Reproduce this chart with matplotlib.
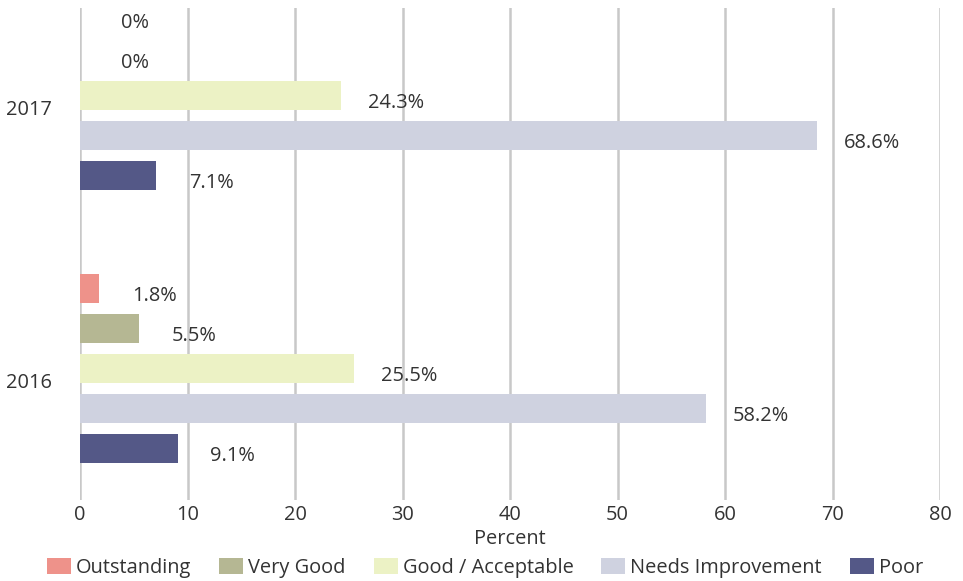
import matplotlib
matplotlib.use("Agg")
import matplotlib.pyplot as plt
import matplotlib.transforms as mtransforms
from matplotlib.patches import Patch

plt.rcParams['font.family'] = ['Open Sans', 'DejaVu Sans']

years = ["2016", "2017"]
series = ["Outstanding", "Very Good", "Good / Acceptable", "Needs Improvement", "Poor"]
values_2016 = [1.8, 5.5, 25.5, 58.2, 9.1]
values_2017 = [0.0, 0.0, 24.3, 68.6, 7.1]
colors = ["#EE928A", "#B5B793", "#ECF2C5", "#CFD2E0", "#545887"]
x_ticks = [0, 10, 20, 30, 40, 50, 60, 70, 80]

text_color = "#333333"
fs = 14.4
W, H = 963, 581
fig = plt.figure(figsize=(W / 100, H / 100), dpi=100)
ax = fig.add_axes([80 / W, 1 - 500 / H, 860 / W, 492 / H])

step = 40 / 273
bar_h = 29 / 273
data = [values_2016, values_2017]
for si, name in enumerate(series):
    for yi, vals in enumerate(data):
        y = yi + (2 - si) * step
        v = vals[si]
        ax.barh(y, v, height=bar_h, color=colors[si], zorder=3)
        ax.annotate(f"{v:g}%", xy=(v, y), xytext=(55, -8),
                    textcoords="offset pixels", ha="center", va="center",
                    fontsize=fs, color=text_color, zorder=4)

ax.set_xlim(0, 80)
ax.set_ylim(-132 / 273, 1 + 87 / 273)
ax.set_xticks(x_ticks)
ax.set_xticklabels([str(t) for t in x_ticks])
ax.set_yticks([0, 1])
ax.set_yticklabels(years)
ax.xaxis.grid(True, color="#C8C8C8", linewidth=1.8, zorder=0)
ax.yaxis.grid(False)
for s in ax.spines.values():
    s.set_visible(False)
ax.tick_params(axis="x", length=0, pad=3.5, labelsize=fs, labelcolor=text_color)
ax.tick_params(axis="y", length=0, pad=20, labelsize=fs, labelcolor=text_color)
shift = mtransforms.ScaledTranslation(0, -0.12, fig.dpi_scale_trans)
for lbl in ax.get_yticklabels():
    lbl.set_transform(lbl.get_transform() + shift)

ax.set_xlabel("Percent", fontsize=fs, color=text_color, labelpad=3)

handles = [Patch(facecolor=c, edgecolor="none", label=n) for c, n in zip(colors, series)]
fig.legend(handles=handles, loc="center", bbox_to_anchor=(485 / W, 1 - 568 / H),
           ncol=5, frameon=False, fontsize=fs, labelcolor=text_color,
           handlelength=1.2, handleheight=0.85, handletextpad=0.25,
           columnspacing=1.4, borderaxespad=0, borderpad=0)

fig.savefig("out.png", dpi=100)
